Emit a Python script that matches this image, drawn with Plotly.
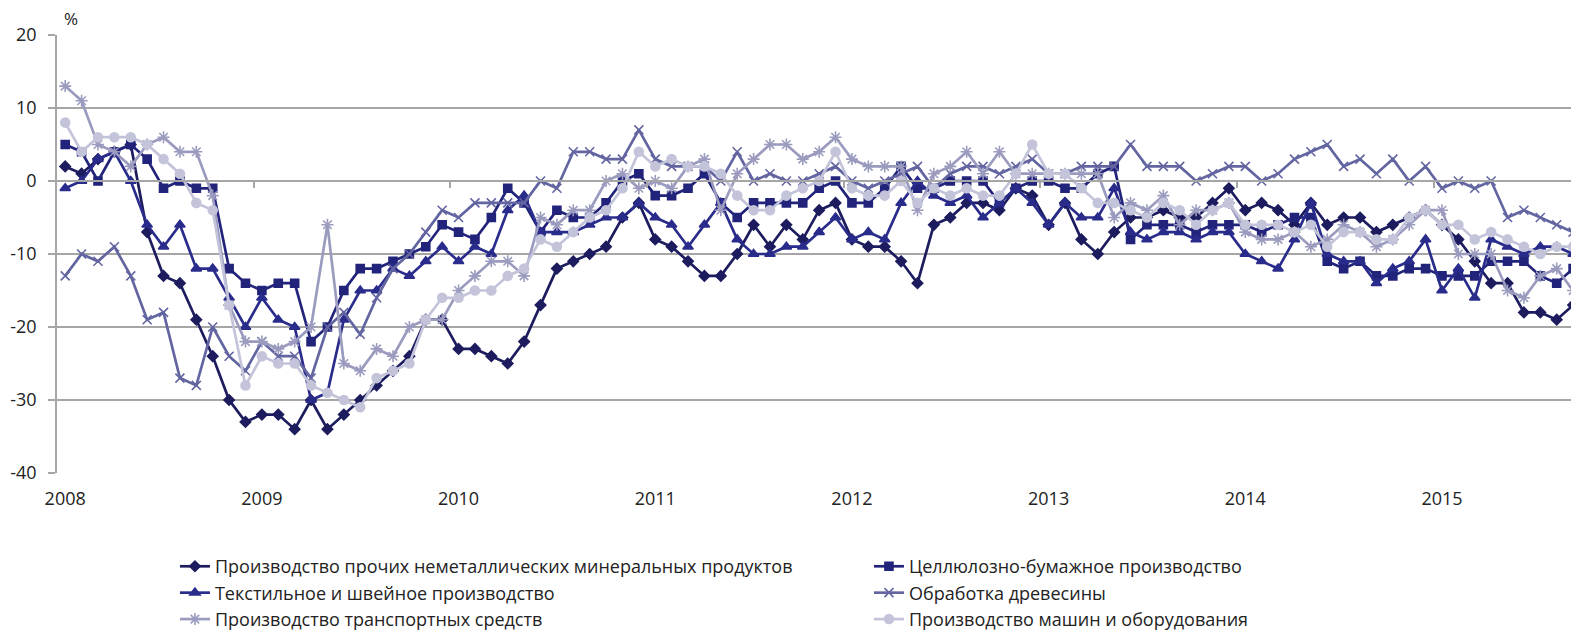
import plotly.graph_objects as go

# monthly values, Jan 2008 .. Oct 2015 (last one is cut by the frame), %
nonmetal = [2, 1, 3, 4, 5, -7, -13, -14, -19, -24, -30, -33,
            -32, -32, -34, -30, -34, -32, -30, -28, -26, -24, -19, -19,
            -23, -23, -24, -25, -22, -17, -12, -11, -10, -9, -5, -3,
            -8, -9, -11, -13, -13, -10, -6, -9, -6, -8, -4, -3,
            -8, -9, -9, -11, -14, -6, -5, -3, -3, -4, -1, -2,
            -6, -3, -8, -10, -7, -5, -5, -4, -5, -5, -3, -1,
            -4, -3, -4, -6, -3, -6, -5, -5, -7, -6, -5, -4,
            -6, -8, -11, -14, -14, -18, -18, -19, -17, -16]
pulp = [5, 4, 0, 4, 5, 3, -1, 0, -1, -1, -12, -14,
        -15, -14, -14, -22, -20, -15, -12, -12, -11, -10, -9, -6,
        -7, -8, -5, -1, -3, -7, -4, -5, -5, -3, 0, 1,
        -2, -2, -1, 1, -3, -5, -3, -3, -3, -3, -1, 0,
        -3, -3, -1, 2, -1, -1, 0, 0, 0, -3, -1, 0,
        0, -1, -1, 1, 2, -8, -6, -6, -6, -7, -6, -6,
        -6, -7, -6, -5, -5, -11, -12, -11, -13, -13, -12, -12,
        -13, -13, -13, -11, -11, -11, -13, -14, -12, -11]
textile = [-1, 0, 3, 4, 0, -6, -9, -6, -12, -12, -16, -20,
           -16, -19, -20, -30, -29, -19, -15, -15, -12, -13, -11, -9,
           -11, -9, -10, -4, -2, -7, -7, -7, -6, -5, -5, -3,
           -5, -6, -9, -6, -3, -8, -10, -10, -9, -9, -7, -5,
           -8, -7, -8, -3, 0, -2, -3, -2, -5, -3, -1, -3,
           -6, -3, -5, -5, -1, -7, -8, -7, -7, -8, -7, -7,
           -10, -11, -12, -8, -3, -10, -11, -11, -14, -12, -11, -8,
           -15, -12, -16, -8, -9, -10, -9, -9, -10, -12]
wood = [-13, -10, -11, -9, -13, -19, -18, -27, -28, -20, -24, -26,
        -22, -24, -24, -27, -20, -18, -21, -16, -12, -10, -7, -4,
        -5, -3, -3, -3, -3, 0, -1, 4, 4, 3, 3, 7,
        3, 2, 2, 2, 0, 4, 0, 1, 0, 0, 1, 2,
        0, -1, 0, 1, 2, -1, 1, 2, 2, 1, 2, 3,
        1, 1, 2, 2, 2, 5, 2, 2, 2, 0, 1, 2,
        2, 0, 1, 3, 4, 5, 2, 3, 1, 3, 0, 2,
        -1, 0, -1, 0, -5, -4, -5, -6, -7, -11]
transport = [13, 11, 5, 4, 2, 5, 6, 4, 4, -2, -17, -22,
             -22, -23, -22, -20, -6, -25, -26, -23, -24, -20, -19, -19,
             -15, -13, -11, -11, -13, -5, -6, -4, -4, 0, 1, -1,
             0, -1, 2, 3, -4, 1, 3, 5, 5, 3, 4, 6,
             3, 2, 2, 2, -4, 1, 2, 4, 1, 4, 1, 1,
             1, 1, 1, 1, -5, -3, -4, -2, -6, -4, -4, -3,
             -7, -8, -8, -7, -9, -8, -6, -7, -9, -8, -6, -4,
             -4, -10, -10, -10, -15, -16, -13, -12, -15, -8]
machines = [8, 4, 6, 6, 6, 5, 3, 1, -3, -4, -17, -28,
            -24, -25, -25, -28, -29, -30, -31, -27, -26, -25, -19, -16,
            -16, -15, -15, -13, -12, -8, -9, -7, -5, -4, -1, 4,
            2, 3, 2, 2, 1, -2, -4, -4, -2, -1, 0, 4,
            -1, -2, -2, 0, -3, -1, -2, -1, -2, -2, 1, 5,
            1, 1, -1, -3, -3, -4, -5, -3, -4, -6, -4, -3,
            -6, -6, -6, -7, -6, -9, -7, -7, -8, -8, -5, -4,
            -6, -6, -8, -7, -8, -9, -10, -9, -9, -8]

years = ["2008", "2009", "2010", "2011", "2012", "2013", "2014", "2015"]
y_ticks = [-40, -30, -20, -10, 0, 10, 20]
y_labels = ["-40", "-30", "-20", "-10", "0", "10", "20"]
months = list(range(len(nonmetal)))

series = [
    ("Производство прочих неметаллических минеральных продуктов", nonmetal, "#1c1c5e", "diamond", 8),
    ("Целлюлозно-бумажное производство", pulp, "#22237a", "square", 8),
    ("Текстильное и швейное производство", textile, "#2a2c8c", "triangle-up", 9),
    ("Обработка древесины", wood, "#6365a1", "x-thin-open", 9),
    ("Производство транспортных средств", transport, "#9a9bbe", "asterisk-open", 10),
    ("Производство машин и оборудования", machines, "#c3c4da", "circle", 9),
]

font = "Open Sans, Liberation Sans, Arial, sans-serif"
grid = "#a6a6a6"

fig = go.Figure()
for name, vals, col, sym, size in series:
    fig.add_trace(go.Scatter(
        x=months, y=vals, name=name, mode="lines+markers",
        line=dict(color=col, width=2.7),
        marker=dict(symbol=sym, size=size, color=col,
                    line=dict(color=col, width=1.6)),
    ))

# invisible trace that carries the year-boundary tick marks on the zero line
fig.add_trace(go.Scatter(x=[0], y=[0], xaxis="x2", showlegend=False,
                         mode="markers", marker=dict(opacity=0), hoverinfo="skip"))

# the page body has an 8px margin, so the figure is 8px smaller than the window
fig.update_layout(
    width=1571, height=622,
    margin=dict(l=49, r=0, t=27, b=157, autoexpand=False),
    paper_bgcolor="white", plot_bgcolor="white",
    font=dict(family=font, size=18, color="#222222"),
    xaxis=dict(
        range=[-0.5, 92.36],
        tickvals=[12 * k for k in range(len(years))],
        ticktext=years,
        showgrid=False, zeroline=False, showline=False,
        ticks="", ticklabelstandoff=13,
    ),
    xaxis2=dict(
        overlaying="x", anchor="free", position=40 / 60,
        range=[-0.5, 92.36],
        tickvals=[12 * k - 0.5 for k in range(1, len(years))],
        showticklabels=False, showgrid=False, zeroline=False,
        showline=True, linecolor=grid, linewidth=1.5,
        ticks="outside", ticklen=6, tickcolor=grid, tickwidth=1.5,
    ),
    yaxis=dict(
        range=[-40, 20],
        tickvals=y_ticks, ticktext=y_labels,
        showgrid=True, gridcolor=grid, gridwidth=1.5,
        zeroline=False,
        showline=True, linecolor=grid, linewidth=1.5,
        ticks="outside", ticklen=7, tickcolor=grid, tickwidth=1.5,
        ticklabelstandoff=8,
    ),
    legend=dict(
        orientation="h", x=0.0775, xanchor="left", y=-0.1714, yanchor="top",
        entrywidth=649, entrywidthmode="pixels",
        font=dict(size=18), traceorder="normal",
        bgcolor="rgba(0,0,0,0)",
    ),
    annotations=[dict(
        text="%", xref="paper", yref="paper", x=0.003, y=1.0,
        xanchor="left", yanchor="bottom", showarrow=False, yshift=3,
        font=dict(size=17),
    )],
    showlegend=True,
)

fig.write_html("out.html")
